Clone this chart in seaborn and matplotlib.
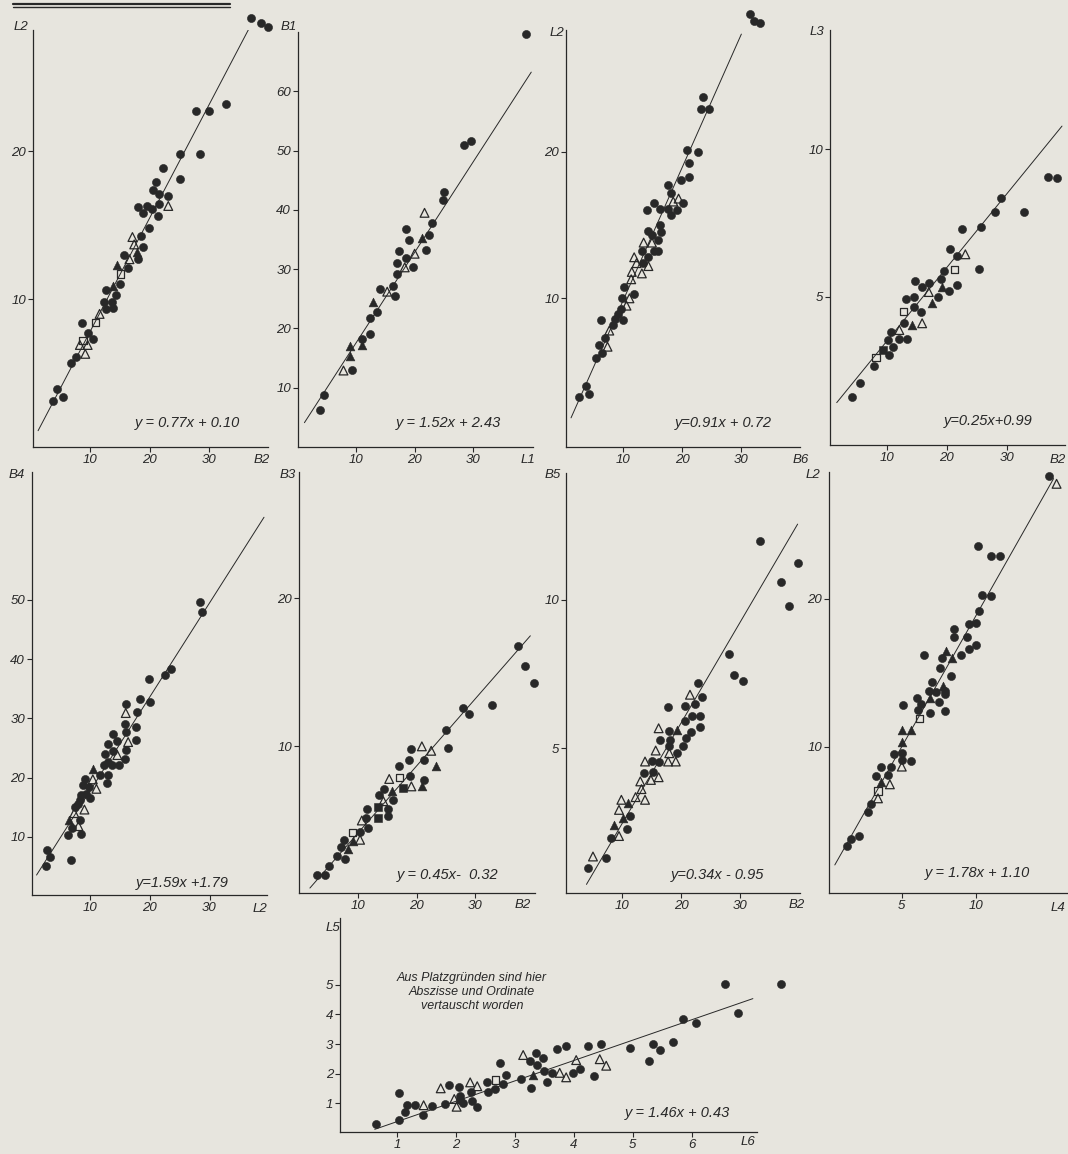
# Nine regression scatter panels (scanned figure), redrawn with seaborn

import numpy as np
import pandas as pd
import seaborn as sns
import matplotlib.pyplot as plt
from matplotlib.lines import Line2D

W, H = 1068, 1154
PAPER = '#e7e5de'
INK = '#282828'

# point groups: o filled circle, A filled triangle, a open triangle,
# q open square, Q filled square
pts_a = [(37.0, 29.0, 'o'), (38.6, 28.7, 'o'), (39.8, 28.4, 'o'), (27.8, 22.7, 'o'),
         (29.9, 22.7, 'o'), (32.7, 23.2, 'o'), (25.0, 19.8, 'o'), (28.4, 19.8, 'o'),
         (25.0, 18.1, 'o'), (22.3, 18.9, 'o'), (21.1, 17.9, 'o'), (20.5, 17.4, 'o'),
         (21.6, 17.1, 'o'), (23.1, 17.0, 'o'), (18.1, 16.2, 'o'), (19.5, 16.3, 'o'),
         (20.3, 16.1, 'o'), (18.9, 15.8, 'o'), (21.6, 16.4, 'o'), (21.4, 15.6, 'o'),
         (23.1, 16.3, 'a'), (19.8, 14.8, 'o'), (18.5, 14.3, 'o'), (18.9, 13.5, 'o'),
         (18.1, 12.7, 'o'), (15.7, 13.0, 'o'), (16.4, 12.1, 'o'), (17.1, 14.2, 'a'),
         (17.4, 13.7, 'a'), (16.6, 12.7, 'a'), (17.8, 13.2, 'A'), (14.5, 12.3, 'A'),
         (15.1, 11.7, 'q'), (15.0, 11.0, 'o'), (14.4, 10.3, 'o'), (13.9, 10.9, 'A'),
         (12.7, 10.6, 'o'), (12.4, 9.8, 'o'), (13.6, 9.8, 'o'), (12.7, 9.3, 'o'),
         (13.9, 9.4, 'o'), (11.6, 9.0, 'a'), (10.9, 8.4, 'q'), (8.6, 8.4, 'o'),
         (9.6, 7.7, 'o'), (10.5, 7.3, 'o'), (8.8, 7.2, 'q'), (8.3, 6.9, 'a'),
         (9.6, 6.9, 'a'), (9.2, 6.3, 'a'), (7.7, 6.1, 'o'), (6.8, 5.7, 'o'),
         (4.5, 3.9, 'o'), (3.8, 3.1, 'o'), (5.5, 3.4, 'o')]

pts_b = [(39.1, 69.6, 'o'), (28.4, 50.9, 'o'), (29.7, 51.6, 'o'), (24.9, 41.7, 'o'),
         (25.1, 43.0, 'o'), (23.0, 37.7, 'o'), (22.5, 35.7, 'o'), (22.0, 33.3, 'o'),
         (21.7, 39.5, 'a'), (21.3, 35.2, 'A'), (20.0, 32.6, 'a'), (19.7, 30.4, 'o'),
         (18.6, 36.7, 'o'), (19.1, 34.9, 'o'), (17.4, 33.1, 'o'), (18.6, 31.8, 'o'),
         (17.0, 31.1, 'o'), (17.0, 29.2, 'o'), (18.3, 30.3, 'a'), (16.3, 27.1, 'o'),
         (16.7, 25.4, 'o'), (15.3, 26.2, 'a'), (14.0, 26.6, 'o'), (12.9, 24.5, 'A'),
         (13.6, 22.8, 'o'), (12.3, 21.7, 'o'), (12.3, 19.0, 'o'), (11.0, 18.3, 'o'),
         (10.9, 17.2, 'A'), (8.9, 17.0, 'A'), (8.9, 15.4, 'A'), (9.3, 13.0, 'o'),
         (7.8, 12.9, 'a'), (4.5, 8.8, 'o'), (3.7, 6.2, 'o')]

pts_c = [(31.5, 29.4, 'o'), (32.1, 28.9, 'o'), (33.2, 28.8, 'o'), (23.5, 23.7, 'o'),
         (23.2, 22.9, 'o'), (24.5, 22.9, 'o'), (20.9, 20.1, 'o'), (22.6, 20.0, 'o'),
         (21.1, 19.2, 'o'), (19.8, 18.1, 'o'), (21.1, 18.3, 'o'), (17.6, 17.7, 'o'),
         (18.2, 17.2, 'o'), (19.4, 16.8, 'a'), (18.5, 16.6, 'a'), (20.2, 16.5, 'o'),
         (19.1, 16.0, 'o'), (18.1, 15.7, 'o'), (17.6, 16.1, 'o'), (16.3, 16.1, 'o'),
         (15.2, 16.5, 'o'), (14.1, 16.0, 'o'), (16.2, 15.0, 'o'), (16.5, 14.5, 'o'),
         (14.3, 14.6, 'o'), (14.9, 14.3, 'o'), (15.9, 14.0, 'o'), (15.9, 13.2, 'o'),
         (15.2, 13.2, 'o'), (14.2, 12.8, 'o'), (13.2, 13.2, 'o'), (13.5, 13.8, 'a'),
         (14.9, 13.8, 'a'), (11.9, 12.8, 'a'), (12.3, 12.4, 'a'), (14.3, 12.2, 'a'),
         (11.5, 11.8, 'a'), (13.2, 11.7, 'a'), (11.4, 11.3, 'a'), (13.4, 12.4, 'o'),
         (10.1, 10.8, 'o'), (11.8, 10.3, 'o'), (9.9, 10.0, 'o'), (11.1, 10.0, 'a'),
         (10.6, 9.5, 'a'), (9.7, 9.3, 'o'), (9.1, 8.9, 'o'), (8.7, 8.6, 'o'),
         (10.0, 8.5, 'o'), (8.3, 8.2, 'o'), (6.3, 8.5, 'o'), (7.7, 7.8, 'a'),
         (7.0, 7.3, 'o'), (7.4, 6.7, 'a'), (5.9, 6.8, 'o'), (6.4, 6.3, 'o'),
         (5.4, 5.9, 'o'), (3.7, 4.0, 'o'), (2.6, 3.3, 'o'), (4.3, 3.5, 'o')]

pts_d = [(36.8, 9.07, 'o'), (38.3, 9.04, 'o'), (29.1, 8.34, 'o'), (28.1, 7.86, 'o'),
         (32.9, 7.88, 'o'), (22.6, 7.29, 'o'), (25.7, 7.38, 'o'), (20.6, 6.61, 'o'),
         (21.7, 6.39, 'o'), (23.1, 6.44, 'a'), (25.3, 5.93, 'o'), (21.3, 5.93, 'q'),
         (19.6, 5.88, 'o'), (19.0, 5.61, 'o'), (14.7, 5.53, 'o'), (15.9, 5.32, 'o'),
         (17.1, 5.45, 'o'), (17.0, 5.16, 'a'), (19.2, 5.32, 'A'), (20.4, 5.20, 'o'),
         (21.7, 5.40, 'o'), (18.5, 5.00, 'o'), (17.5, 4.80, 'A'), (13.2, 4.91, 'o'),
         (14.6, 5.00, 'o'), (14.6, 4.64, 'o'), (12.8, 4.49, 'q'), (15.7, 4.47, 'o'),
         (12.9, 4.12, 'o'), (14.2, 4.04, 'A'), (15.9, 4.10, 'a'), (12.1, 3.87, 'a'),
         (10.7, 3.79, 'o'), (10.2, 3.53, 'o'), (12.1, 3.57, 'o'), (13.4, 3.57, 'o'),
         (11.1, 3.30, 'o'), (9.3, 3.19, 'Q'), (10.4, 3.04, 'o'), (8.2, 2.94, 'q'),
         (7.9, 2.66, 'o'), (5.6, 2.09, 'o'), (4.2, 1.61, 'o')]

pts_e = [(28.4, 49.6, 'o'), (28.8, 47.9, 'o'), (23.5, 38.4, 'o'), (22.5, 37.3, 'o'),
         (19.9, 36.6, 'o'), (20.0, 32.8, 'o'), (18.3, 33.2, 'o'), (17.9, 31.1, 'o'),
         (17.7, 28.5, 'o'), (17.7, 26.3, 'o'), (16.0, 32.5, 'o'), (16.0, 30.9, 'a'),
         (15.9, 29.1, 'o'), (16.0, 27.7, 'o'), (16.4, 26.0, 'a'), (16.0, 24.7, 'o'),
         (15.9, 23.2, 'o'), (13.8, 27.4, 'o'), (14.5, 26.2, 'o'), (13.0, 25.6, 'o'),
         (13.9, 24.5, 'o'), (12.5, 23.9, 'o'), (14.6, 23.8, 'a'), (14.8, 22.1, 'o'),
         (13.7, 22.1, 'o'), (13.1, 22.6, 'o'), (12.3, 22.1, 'o'), (11.7, 20.4, 'o'),
         (13.0, 20.4, 'o'), (12.8, 19.0, 'o'), (10.5, 21.4, 'A'), (10.5, 19.7, 'a'),
         (11.1, 18.1, 'a'), (9.2, 19.8, 'o'), (8.9, 18.7, 'o'), (9.8, 18.4, 'o'),
         (9.4, 17.3, 'o'), (10.0, 16.6, 'o'), (8.6, 17.0, 'o'), (8.4, 16.2, 'o'),
         (8.1, 15.6, 'o'), (7.5, 15.0, 'o'), (9.1, 14.6, 'a'), (7.4, 14.0, 'a'),
         (6.6, 12.8, 'A'), (8.4, 12.8, 'o'), (8.6, 10.4, 'o'), (8.1, 11.8, 'a'),
         (7.0, 11.4, 'o'), (6.4, 10.3, 'o'), (6.8, 6.1, 'o'), (2.8, 7.8, 'o'),
         (3.4, 6.6, 'o'), (2.6, 5.0, 'o')]

pts_f = [(37.3, 16.8, 'o'), (38.6, 15.4, 'o'), (40.2, 14.3, 'o'), (28.0, 12.6, 'o'),
         (29.0, 12.2, 'o'), (33.0, 12.8, 'o'), (25.1, 11.1, 'o'), (25.4, 9.9, 'o'),
         (19.1, 9.8, 'o'), (18.7, 9.1, 'o'), (16.9, 8.7, 'o'), (21.3, 9.1, 'o'),
         (20.9, 10.0, 'a'), (22.5, 9.7, 'a'), (23.3, 8.65, 'A'), (17.1, 7.9, 'q'),
         (15.3, 7.8, 'a'), (18.9, 8.0, 'o'), (21.3, 7.75, 'o'), (17.6, 7.2, 'Q'),
         (19.1, 7.3, 'a'), (20.9, 7.3, 'A'), (14.4, 7.1, 'o'), (15.7, 6.97, 'A'),
         (13.6, 6.7, 'o'), (16.0, 6.4, 'o'), (15.1, 5.8, 'o'), (15.1, 5.3, 'o'),
         (14.3, 6.3, 'a'), (13.3, 5.9, 'Q'), (13.3, 5.2, 'Q'), (11.5, 5.8, 'o'),
         (11.4, 5.2, 'o'), (11.6, 4.5, 'o'), (10.6, 5.0, 'a'), (9.0, 4.2, 'q'),
         (10.3, 4.2, 'o'), (10.3, 3.7, 'a'), (9.1, 3.6, 'A'), (7.6, 3.7, 'o'),
         (7.0, 3.2, 'o'), (8.2, 3.1, 'A'), (7.8, 2.4, 'o'), (6.3, 2.6, 'o'),
         (4.9, 1.9, 'o'), (2.9, 1.35, 'o'), (4.3, 1.3, 'o')]

pts_g = [(33.3, 11.97, 'o'), (39.7, 11.24, 'o'), (36.9, 10.6, 'o'), (38.3, 9.78, 'o'),
         (28.1, 8.17, 'o'), (28.9, 7.47, 'o'), (30.4, 7.25, 'o'), (22.8, 7.19, 'o'),
         (23.5, 6.74, 'o'), (21.5, 6.80, 'a'), (20.7, 6.43, 'o'), (22.3, 6.48, 'o'),
         (17.7, 6.40, 'o'), (21.8, 6.07, 'o'), (23.2, 6.07, 'o'), (23.2, 5.71, 'o'),
         (20.7, 5.90, 'o'), (21.7, 5.53, 'o'), (16.2, 5.67, 'a'), (19.3, 5.60, 'A'),
         (18.0, 5.58, 'o'), (16.4, 5.28, 'o'), (18.2, 5.28, 'o'), (17.9, 5.08, 'o'),
         (20.9, 5.34, 'o'), (20.3, 5.08, 'o'), (19.3, 4.83, 'o'), (15.7, 4.92, 'a'),
         (18.0, 4.83, 'a'), (15.1, 4.57, 'o'), (16.2, 4.53, 'o'), (13.9, 4.55, 'a'),
         (17.8, 4.55, 'a'), (19.1, 4.55, 'a'), (13.8, 4.16, 'o'), (15.2, 4.21, 'o'),
         (14.9, 3.93, 'a'), (16.2, 4.02, 'a'), (13.1, 3.88, 'a'), (13.3, 3.62, 'a'),
         (12.3, 3.35, 'a'), (13.9, 3.26, 'a'), (11.1, 3.15, 'A'), (9.9, 3.26, 'a'),
         (9.5, 2.92, 'a'), (11.3, 2.73, 'o'), (10.1, 2.64, 'A'), (8.7, 2.42, 'A'),
         (10.8, 2.28, 'o'), (9.5, 2.04, 'a'), (8.2, 1.97, 'o'), (5.1, 1.35, 'a'),
         (7.3, 1.29, 'o'), (4.2, 0.96, 'o')]

pts_h = [(14.9, 28.3, 'o'), (15.4, 27.8, 'a'), (10.1, 23.6, 'o'), (11.0, 22.9, 'o'),
         (11.6, 22.9, 'o'), (10.4, 20.3, 'o'), (11.0, 20.2, 'o'), (10.2, 19.2, 'o'),
         (10.0, 18.4, 'o'), (9.5, 18.3, 'o'), (8.5, 18.0, 'o'), (8.5, 17.4, 'o'),
         (9.4, 17.4, 'o'), (10.0, 16.9, 'o'), (9.5, 16.6, 'o'), (9.0, 16.2, 'o'),
         (6.5, 16.2, 'o'), (8.0, 16.5, 'A'), (8.4, 16.0, 'A'), (7.7, 16.0, 'o'),
         (7.6, 15.3, 'o'), (8.3, 14.8, 'o'), (7.0, 14.4, 'o'), (7.8, 14.1, 'A'),
         (7.9, 13.8, 'o'), (7.9, 13.6, 'o'), (7.3, 13.7, 'o'), (6.8, 13.8, 'o'),
         (7.5, 13.0, 'o'), (7.9, 12.4, 'o'), (6.9, 13.3, 'A'), (6.0, 13.3, 'o'),
         (6.3, 12.9, 'o'), (6.1, 12.5, 'o'), (6.9, 12.3, 'o'), (5.1, 12.8, 'o'),
         (6.2, 11.9, 'q'), (5.0, 11.1, 'A'), (5.6, 11.1, 'A'), (5.0, 10.3, 'A'),
         (4.5, 9.5, 'o'), (5.0, 9.6, 'o'), (5.0, 9.1, 'o'), (5.6, 9.0, 'o'),
         (5.0, 8.65, 'a'), (3.6, 8.6, 'o'), (4.3, 8.6, 'o'), (3.3, 8.0, 'o'),
         (4.1, 8.1, 'o'), (3.6, 7.6, 'A'), (4.2, 7.45, 'a'), (3.4, 7.0, 'q'),
         (3.4, 6.5, 'a'), (2.9, 6.1, 'o'), (2.7, 5.6, 'o'), (2.1, 3.97, 'o'),
         (1.6, 3.75, 'o'), (1.3, 3.27, 'o')]

pts_i = [(6.56, 5.02, 'o'), (7.52, 5.02, 'o'), (6.79, 4.03, 'o'), (5.86, 3.84, 'o'),
         (6.07, 3.70, 'o'), (5.68, 3.08, 'o'), (5.34, 2.99, 'o'), (5.47, 2.80, 'o'),
         (4.96, 2.85, 'o'), (5.27, 2.43, 'o'), (4.46, 3.00, 'o'), (4.24, 2.93, 'o'),
         (4.35, 1.93, 'o'), (4.44, 2.49, 'a'), (4.55, 2.27, 'a'), (3.86, 2.94, 'o'),
         (3.71, 2.82, 'o'), (4.04, 2.46, 'a'), (4.11, 2.16, 'o'), (3.98, 2.04, 'o'),
         (3.76, 2.03, 'a'), (3.87, 1.88, 'a'), (3.63, 2.03, 'o'), (3.50, 2.09, 'o'),
         (3.54, 1.73, 'o'), (3.36, 2.69, 'o'), (3.47, 2.54, 'o'), (3.26, 2.44, 'o'),
         (3.38, 2.29, 'o'), (3.14, 2.63, 'a'), (3.30, 1.96, 'A'), (3.10, 1.81, 'o'),
         (3.27, 1.53, 'o'), (2.74, 2.35, 'o'), (2.84, 1.96, 'o'), (2.79, 1.64, 'o'),
         (2.67, 1.48, 'o'), (2.67, 1.79, 'q'), (2.52, 1.73, 'o'), (2.54, 1.37, 'o'),
         (2.24, 1.71, 'a'), (2.36, 1.58, 'a'), (2.25, 1.37, 'o'), (2.27, 1.08, 'o'),
         (2.36, 0.87, 'o'), (2.05, 1.57, 'o'), (2.07, 1.26, 'o'), (2.06, 1.11, 'o'),
         (2.11, 1.00, 'o'), (1.97, 1.15, 'a'), (2.01, 0.89, 'a'), (1.88, 1.62, 'o'),
         (1.74, 1.51, 'a'), (1.82, 0.98, 'o'), (1.59, 0.91, 'o'), (1.44, 0.61, 'o'),
         (1.45, 0.94, 'a'), (1.31, 0.94, 'o'), (1.16, 0.94, 'o'), (1.13, 0.70, 'o'),
         (1.04, 1.36, 'o'), (1.04, 0.44, 'o'), (0.64, 0.30, 'o')]

# regression lines: slope, intercept, x range of the drawn segment
slopes = [0.77, 1.52, 0.91, 0.25, 1.59, 0.45, 0.34, 1.78, 1.46]
intercepts = [0.10, 2.43, 0.72, 0.99, 1.79, -0.32, -0.95, 1.10, 0.43]
line_ranges = [(1.3, 36.5), (1.1, 40.0), (1.24, 30.0), (1.67, 39.2), (1.1, 39.1),
               (1.7, 39.5), (4.0, 39.7), (0.5, 15.2), (0.62, 7.04)]
equations = ['y = 0.77x + 0.10', 'y = 1.52x + 2.43', 'y=0.91x + 0.72', 'y=0.25x+0.99',
             'y=1.59x +1.79', 'y = 0.45x-  0.32', 'y=0.34x - 0.95', 'y = 1.78x + 1.10',
             'y = 1.46x + 0.43']
y_names = ['L2', 'B1', 'L2', 'L3', 'B4', 'B3', 'B5', 'L2', 'L5']
x_names = ['B2', 'L1', 'B6', 'B2', 'L2', 'B2', 'B2', 'L4', 'L6']
x_ticks = [[10, 20, 30]] * 7 + [[5, 10], [1, 2, 3, 4, 5, 6]]
y_ticks = [[10, 20], [10, 20, 30, 40, 50, 60], [10, 20], [5, 10],
           [10, 20, 30, 40, 50], [10, 20], [5, 10], [10, 20], [1, 2, 3, 4, 5]]
note = 'Aus Platzgründen sind hier\nAbszisse und Ordinate\nvertauscht worden'

# layout (pixels): axes box l, t, r, b ; data limits ; label positions
layout = [
    dict(box=(33, 30, 268, 447), xl=(0.45, 39.8), yl=(0, 28.2), yn=(21, 27), xn=(262, 460), eq=(187, 423)),
    dict(box=(298, 32, 533, 447), xl=(0, 40.3), yl=(0, 70), yn=(289, 27), xn=(528, 460), eq=(448, 423)),
    dict(box=(566, 30, 800, 447), xl=(0.39, 39.9), yl=(-0.14, 28.3), yn=(557, 33), xn=(801, 460), eq=(723, 423)),
    dict(box=(830, 30, 1065, 445), xl=(0.55, 39.7), yl=(-0.03, 14.05), yn=(817, 32), xn=(1058, 460), eq=(988, 421)),
    dict(box=(32, 472, 267, 895), xl=(0.34, 39.6), yl=(0.17, 71.6), yn=(17, 475), xn=(260, 909), eq=(182, 883)),
    dict(box=(299, 472, 535, 893), xl=(-0.17, 40.3), yl=(0.11, 28.5), yn=(288, 475), xn=(523, 905), eq=(448, 875)),
    dict(box=(566, 473, 800, 893), xl=(0.54, 40.1), yl=(0.12, 14.27), yn=(553, 475), xn=(797, 905), eq=(718, 875)),
    dict(box=(829, 472, 1067, 893), xl=(0.11, 16.1), yl=(0.09, 28.6), yn=(813, 475), xn=(1058, 908), eq=(977, 873)),
    dict(box=(340, 918, 757, 1132), xl=(0.03, 7.11), yl=(0.04, 7.24), yn=(333, 928), xn=(748, 1142), eq=(677, 1113)),
]

KINDS = {'o': ('o', 34, True), 'A': ('^', 40, True), 'a': ('^', 40, False),
         'q': ('s', 28, False), 'Q': ('s', 28, True)}

sns.set_style('ticks')
plt.rcParams['font.family'] = ['Liberation Sans', 'DejaVu Sans']

fig = plt.figure(figsize=(W / 100, H / 100), dpi=100)
fig.patch.set_facecolor(PAPER)


def fxy(px, py):
    return px / W, 1 - py / H


all_pts = [pts_a, pts_b, pts_c, pts_d, pts_e, pts_f, pts_g, pts_h, pts_i]
for i, pts in enumerate(all_pts):
    lay = layout[i]
    l, t, r, b = lay['box']
    ax = fig.add_axes([l / W, 1 - b / H, (r - l) / W, (b - t) / H])
    ax.set_facecolor('none')
    df = pd.DataFrame(pts, columns=['x', 'y', 'g'])
    for g, sub in df.groupby('g'):
        mk, size, filled = KINDS[g]
        sns.scatterplot(data=sub, x='x', y='y', ax=ax, marker=mk, s=size,
                        color=INK, facecolor=INK if filled else 'none',
                        edgecolor=INK, linewidth=0.4 if filled else 0.9,
                        clip_on=False, legend=False, zorder=3)

    # regression line
    x0, x1 = line_ranges[i]
    xs = np.array([x0, x1])
    if i == 8:
        ys = (xs - intercepts[i]) / slopes[i]   # axes swapped in this panel
    else:
        ys = slopes[i] * xs + intercepts[i]
    sns.lineplot(x=xs, y=ys, ax=ax, color=INK, lw=0.7, sort=False, zorder=2)

    ax.set_xlim(*lay['xl'])
    ax.set_ylim(*lay['yl'])
    ax.set_xticks(x_ticks[i])
    ax.set_yticks(y_ticks[i])
    ax.set_xlabel('')
    ax.set_ylabel('')
    for s in ['top', 'right']:
        ax.spines[s].set_visible(False)
    for s in ['left', 'bottom']:
        ax.spines[s].set_color(INK)
        ax.spines[s].set_linewidth(0.9)
    ax.tick_params(direction='out', length=3.5, width=0.8, colors=INK,
                   labelsize=9.5, pad=1.5)
    for lbl in ax.get_xticklabels() + ax.get_yticklabels():
        lbl.set_fontstyle('italic')

    fig.text(*fxy(*lay['yn']), y_names[i], ha='center', va='center',
             fontsize=9.5, style='italic', color=INK)
    fig.text(*fxy(*lay['xn']), x_names[i], ha='center', va='center',
             fontsize=9.5, style='italic', color=INK)
    fig.text(*fxy(*lay['eq']), equations[i], ha='center', va='center',
             fontsize=10.5, style='italic', color=INK)

fig.text(*fxy(472, 992), note, ha='center', va='center', fontsize=9,
         style='italic', color=INK, linespacing=1.2)

# double rule of the cut-off heading
for py, lw in [(3.5, 1.6), (7.0, 1.0)]:
    fig.add_artist(Line2D([13 / W, 230 / W], [1 - py / H, 1 - py / H],
                          lw=lw, color=INK))

fig.savefig('out.png', dpi=100, facecolor=PAPER)
